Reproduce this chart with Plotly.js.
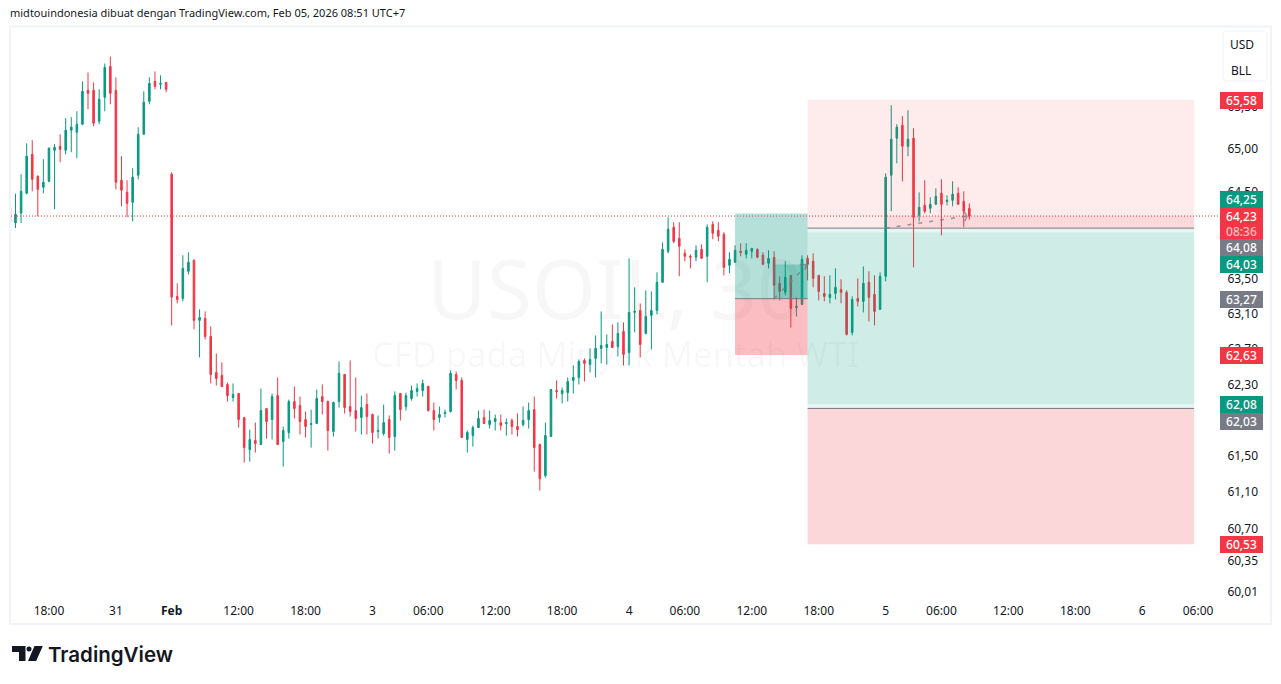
<!DOCTYPE html>
<html><head><meta charset="utf-8">
<script src="https://cdn.plot.ly/plotly-3.0.1.min.js"></script>
<style>html,body{margin:0;padding:0;background:#fff;overflow:hidden}#c{width:1281px;height:684px}</style>
</head><body><div id="c"></div>
<script>
const open=[64.321,
64.140,64.255,64.484,64.939,64.682,64.554,64.624,64.986,65.033,64.986,
65.222,65.198,65.292,65.693,65.693,65.328,65.610,65.976,65.693,64.636,
64.495,64.379,64.694,65.174,65.563,65.799,65.764,65.787,
64.706,63.296,63.273,63.583,63.709,63.023,63.046,62.841,62.434,62.400,
62.299,62.152,62.197,61.928,61.571,61.672,61.627,62.029,61.906,62.174,
61.660,61.761,62.107,62.062,61.906,61.850,61.861,62.163,62.107,61.772,
62.107,62.411,62.051,62.006,61.928,62.073,61.962,61.772,61.750,61.906,
61.716,62.197,62.051,62.141,62.220,62.231,62.276,62.006,61.928,61.973,
61.995,62.411,62.344,61.683,61.727,61.817,61.928,61.850,61.884,61.872,
61.861,61.895,61.828,61.850,61.906,62.017,61.627,61.283,61.716,62.231,
62.197,62.208,62.344,62.377,62.569,62.524,62.592,62.705,62.716,62.784,
62.727,62.898,62.659,63.114,63.136,62.875,63.080,63.136,63.457,63.813,
64.090,63.963,63.790,63.755,63.744,63.835,63.755,64.124,64.055,64.009,
63.652,63.686,63.813,63.778,63.813,63.835,63.767,63.675,63.744,63.445,
63.342,63.537,63.170,63.205,63.732,63.698,63.537,63.330,63.284,63.330,
63.376,63.342,62.886,63.273,63.239,63.457,63.319,63.148,63.526,64.694,
65.128,65.280,65.033,65.128,64.229,64.344,64.310,64.356,64.484,64.390,
64.402,64.484,64.390,64.310];
const high=[64.390,
64.480,64.706,65.068,65.104,64.694,64.881,65.021,65.057,65.174,65.363,
65.375,65.445,65.799,65.905,65.787,65.705,66.011,66.094,65.846,64.916,
64.636,64.776,65.257,65.681,65.846,65.917,65.870,65.787,
64.729,63.445,63.767,63.801,63.721,63.148,63.125,62.955,62.648,62.547,
62.321,62.310,62.197,61.928,61.794,61.872,62.253,62.029,62.197,62.377,
61.828,62.129,62.276,62.163,61.995,62.017,62.242,62.299,62.118,62.107,
62.558,62.411,62.569,62.377,62.174,62.197,61.973,61.951,62.073,61.951,
62.220,62.197,62.208,62.287,62.310,62.355,62.287,62.096,62.051,62.017,
62.456,62.445,62.377,61.783,61.839,62.006,62.017,62.006,61.962,61.962,
61.917,61.917,61.973,62.051,62.096,62.163,61.638,61.872,62.242,62.344,
62.265,62.377,62.513,62.580,62.592,62.705,62.852,63.125,62.864,62.977,
63.000,63.000,63.732,63.399,63.216,63.365,63.353,63.571,63.916,64.205,
64.148,64.148,63.835,63.778,63.882,63.893,64.124,64.159,64.148,64.032,
63.801,63.882,63.905,63.905,63.847,63.847,63.801,63.824,63.813,63.526,
63.698,63.537,63.284,63.767,63.767,63.790,63.537,63.526,63.537,63.617,
63.491,63.365,63.296,63.503,63.640,63.583,63.537,63.571,64.717,65.516,
65.292,65.387,65.457,65.245,64.495,64.636,64.437,64.542,64.647,64.461,
64.624,64.554,64.507,64.367];
const low=[64.148,
64.082,64.140,64.472,64.507,64.217,64.484,64.612,64.298,64.846,64.939,
64.963,64.893,65.280,65.469,65.269,65.292,65.445,65.528,64.530,64.333,
64.206,64.159,64.647,65.174,65.528,65.705,65.705,65.669,
62.966,63.216,63.239,63.548,62.921,62.603,62.807,62.310,62.287,62.276,
62.107,62.107,61.817,61.427,61.438,61.538,61.627,61.694,61.683,61.627,
61.383,61.694,61.917,61.739,61.705,61.593,61.861,61.962,61.560,61.716,
62.040,61.973,61.939,61.772,61.739,61.739,61.638,61.694,61.727,61.527,
61.560,61.895,62.006,62.118,62.163,62.163,61.995,61.783,61.872,61.928,
61.984,62.242,61.705,61.538,61.605,61.817,61.861,61.805,61.783,61.783,
61.727,61.739,61.716,61.828,61.805,61.328,61.118,61.261,61.716,62.141,
62.085,62.107,62.197,62.299,62.332,62.434,62.377,62.536,62.524,62.716,
62.614,62.513,62.513,62.886,62.603,62.864,62.693,63.091,63.457,63.790,
63.905,63.526,63.698,63.617,63.698,63.732,63.457,63.951,63.928,63.537,
63.560,63.686,63.755,63.732,63.732,63.732,63.652,63.617,63.261,63.250,
63.307,62.943,63.068,63.205,63.480,63.399,63.250,63.239,63.216,63.261,
63.216,62.852,62.852,63.182,63.114,63.011,62.966,63.148,63.468,64.275,
64.834,64.624,64.916,63.629,64.159,64.252,64.252,64.356,63.997,64.344,
64.333,64.356,64.090,64.180];
const close=[64.148,
64.240,64.507,64.916,64.647,64.530,64.612,65.010,65.021,64.998,65.222,
65.257,65.292,65.681,65.657,65.304,65.587,65.964,65.657,64.612,64.519,
64.367,64.671,65.174,65.551,65.775,65.740,65.775,65.705,
63.288,63.261,63.617,63.686,63.023,63.057,62.841,62.411,62.366,62.276,
62.174,62.186,61.906,61.593,61.683,61.638,62.006,61.884,62.163,61.627,
61.783,62.107,62.029,61.884,61.828,61.861,62.141,62.107,61.783,62.096,
62.423,62.040,61.995,61.917,62.040,61.939,61.761,61.783,61.872,61.705,
62.174,62.017,62.174,62.231,62.253,62.310,62.006,61.906,61.962,61.984,
62.423,62.344,61.705,61.761,61.817,61.917,61.861,61.895,61.917,61.839,
61.872,61.828,61.794,61.895,62.006,61.593,61.250,61.727,62.242,62.220,
62.231,62.332,62.377,62.558,62.536,62.580,62.705,62.739,62.750,62.716,
62.875,62.637,63.114,63.125,62.750,63.068,63.136,63.457,63.835,64.066,
63.928,63.870,63.755,63.744,63.824,63.732,64.090,64.020,63.986,63.629,
63.721,63.824,63.801,63.824,63.847,63.744,63.663,63.732,63.422,63.353,
63.514,63.159,63.182,63.721,63.663,63.503,63.353,63.296,63.319,63.399,
63.342,62.864,63.261,63.239,63.445,63.284,63.125,63.526,64.671,65.116,
65.257,65.033,65.116,64.206,64.321,64.275,64.356,64.449,64.356,64.402,
64.472,64.356,64.275,64.220];
const candleIndex=open.map((_,i)=>i-1);

const timeTickIndex=[6,18,28,40,52,64,74,86,98,110,120,132,144,156,166,178,190,202,212];
const timeTickLabel=['18:00','31','<b>Feb</b>','12:00','18:00','3','06:00','12:00','18:00','4','06:00','12:00','18:00','5','06:00','12:00','18:00','6','06:00'];
const priceTicks=[65.5,65,64.5,63.5,63.1,62.7,62.3,61.5,61.1,60.7,60.35,60.01];
const priceTickLabel=['65,50','65,00','64,50','63,50','63,10','62,70','62,30','61,50','61,10','60,70','60,35','60,01'];

const tagLabel=['65,58','64,25','64,23','08:36','64,08','64,03','63,27','62,63','62,08','62,03','60,53'];
const tagColor=['#F23645','#089981','#F23645','#F23645','#787B86','#089981','#787B86','#F23645','#089981','#787B86','#F23645'];
const tagTextColor=['#fff','#fff','#fff','rgba(255,255,255,0.7)','#fff','#fff','#fff','#fff','#fff','#fff','#fff'];
const tagCenter=[100.4,199.4,215.6,231,247.4,264,299.4,355.4,404.4,421.2,544.4];
const tagHeight=[17,17,16,16,17,17,17,17,17,17,17];

const lastPrice=64.22;
const GREEN='#089981', RED='#F23645', GREY='#787B86';

const L=11,R=1219,T=27,B=596,PW=R-L,PH=B-T;
const px=x=>(x-L)/PW, py=y=>(B-y)/PH;
const yr=(y)=>1.812913-(y-149.1)/12768;

const rect=(x0,x1,y0,y1,fill)=>({type:'rect',xref:'x',yref:'y',x0,x1,y0,y1,fillcolor:fill,line:{width:0},layer:'above'});
const hline=(x0,x1,y)=>({type:'line',xref:'x',yref:'y',x0,x1,y0:y,y1:y,line:{color:GREY,width:1},layer:'above'});
const dash=(x0,y0,x1,y1)=>({type:'line',xref:'x',yref:'y',x0,x1,y0,y1,line:{color:'rgba(120,123,134,0.75)',width:1.5,dash:'4px,7px'},layer:'above'});
const solid=(x0,y0,x1,y1)=>({type:'line',xref:'x',yref:'y',x0,x1,y0,y1,line:{color:'rgba(120,123,134,0.75)',width:1.5},layer:'above'});
const pp=(pts,fill)=>({type:'path',xref:'paper',yref:'paper',path:pts,fillcolor:fill,line:{width:0},layer:'above'});
const P=(x,y)=>px(x).toFixed(5)+','+py(y).toFixed(5);

const shapes=[
 // left long position
 rect(129,142,63.27,64.25,'rgba(8,153,129,0.30)'),
 rect(129,142,62.63,63.27,'rgba(242,54,69,0.33)'),
 rect(136,142,63.27,63.66,'rgba(8,153,129,0.30)'),
 hline(129,142,63.27),
 dash(136,63.27,142,63.66),
 solid(142,63.66,140.6,63.66), solid(142,63.66,141.5,63.6),
 // right short position
 rect(142,211.3,64.08,65.58,'rgba(242,54,69,0.10)'),
 rect(142,211.3,62.08,64.08,'rgba(8,153,129,0.10)'),
 rect(156.2,211.3,64.08,64.22,'rgba(242,54,69,0.10)'),
 hline(142,211.3,64.08),
 // right long position
 rect(142,211.3,62.03,64.03,'rgba(8,153,129,0.10)'),
 rect(142,211.3,60.53,62.03,'rgba(242,54,69,0.20)'),
 hline(142,211.3,62.03),
 dash(156,64.08,170.6,64.22),
 solid(170.6,64.22,170.1,64.27), solid(170.6,64.22,170.2,64.16),
 // last price line
 {type:'line',xref:'paper',yref:'y',x0:0,x1:1,y0:lastPrice,y1:lastPrice,line:{color:RED,width:1,dash:'1px,2px'},layer:'above'},
 // outer frame
 {type:'rect',xref:'paper',yref:'paper',x0:px(10),x1:px(1271),y0:py(26.5),y1:py(624),fillcolor:'rgba(0,0,0,0)',line:{color:'#F0F3FA',width:2},layer:'below'},
 // unit box
 {type:'path',xref:'paper',yref:'paper',path:`M${P(1227,31)} L${P(1263,31)} Q${P(1267,31)} ${P(1267,35)} L${P(1267,77)} Q${P(1267,81)} ${P(1263,81)} L${P(1227,81)} Q${P(1223,81)} ${P(1223,77)} L${P(1223,35)} Q${P(1223,31)} ${P(1227,31)} Z`,fillcolor:'#fff',line:{color:'#F0F3FA',width:1},layer:'above'},
 // logo
 pp(`M${P(12,646)} L${P(25.5,646)} L${P(25.5,661)} L${P(19,661)} L${P(19,652)} L${P(12,652)} Z`,'#131722'),
 {type:'circle',xref:'paper',yref:'paper',x0:px(26.5),x1:px(31.5),y0:py(651.5),y1:py(646.5),fillcolor:'#131722',line:{width:0},layer:'above'},
 pp(`M${P(34.5,646)} L${P(42.8,646)} L${P(36.2,661)} L${P(28,661)} Z`,'#131722')
];

const text=(x,y,t,size,color,anchor,extra)=>Object.assign({xref:'paper',yref:'paper',x:px(x),y:py(y),text:t,showarrow:false,xanchor:anchor||'center',yanchor:'middle',font:{family:'"Noto Sans",sans-serif',size:size,color:color||'#131722'}},extra||{});

const annotations=[
 text(615,287,'USOIL, 30',82,'rgba(19,23,34,0.035)'),
 text(615,353,'CFD pada Minyak Mentah WTI',34.5,'rgba(19,23,34,0.035)'),
 text(1242,44,'USD',12),
 text(1241,70,'BLL',12),
 Object.assign(text(45.5,654,'TradingView',20.5,'#131722','left'),{font:{family:'Inter,sans-serif',size:20.5,color:'#131722',weight:600}})
];
tagLabel.forEach((t,i)=>{
 annotations.push({xref:'paper',yref:'paper',x:px(1241.4),y:py(tagCenter[i]),text:t,showarrow:false,
  xanchor:'center',yanchor:'middle',width:43,height:tagHeight[i],borderpad:0,borderwidth:0,align:'center',valign:'middle',
  bgcolor:tagColor[i],font:{family:'"Noto Sans",sans-serif',size:12,color:tagTextColor[i],weight:500}});
});

const trace={type:'candlestick',x:candleIndex,open,high,low,close,
 increasing:{line:{color:GREEN,width:1},fillcolor:GREEN},
 decreasing:{line:{color:RED,width:1},fillcolor:RED},
 whiskerwidth:0,hoverinfo:'skip',showlegend:false};

const layout={
 width:1281,height:684,paper_bgcolor:'#fff',plot_bgcolor:'#fff',showlegend:false,boxgap:0.6,
 margin:{l:L,r:1281-R,t:T,b:684-B,pad:0},
 title:{text:'midtouindonesia dibuat dengan TradingView.com, Feb 05, 2026 08:51 UTC+7',x:10/1281,xanchor:'left',xref:'container',y:1-13/684,yanchor:'middle',yref:'container',font:{family:'"Noto Sans",sans-serif',size:11,color:'#131722'},pad:{l:0,t:0,b:0,r:0}},
 xaxis:{type:'linear',range:[-0.807,215.76],tickmode:'array',tickvals:timeTickIndex,ticktext:timeTickLabel,showgrid:false,zeroline:false,showline:false,ticks:'outside',ticklen:4,tickcolor:'rgba(0,0,0,0)',rangeslider:{visible:false},tickfont:{family:'"Noto Sans",sans-serif',size:12,color:'#131722'},tickangle:0},
 yaxis:{type:'log',side:'right',range:[yr(596),yr(27)],tickmode:'array',tickvals:priceTicks,ticktext:priceTickLabel,showgrid:false,zeroline:false,showline:false,ticks:'outside',ticklen:5,tickcolor:'rgba(0,0,0,0)',tickfont:{family:'"Noto Sans",sans-serif',size:12,color:'#131722'}},
 shapes,annotations
};
Plotly.newPlot('c',[trace],layout,{staticPlot:true,displayModeBar:false,responsive:false});
</script></body></html>
